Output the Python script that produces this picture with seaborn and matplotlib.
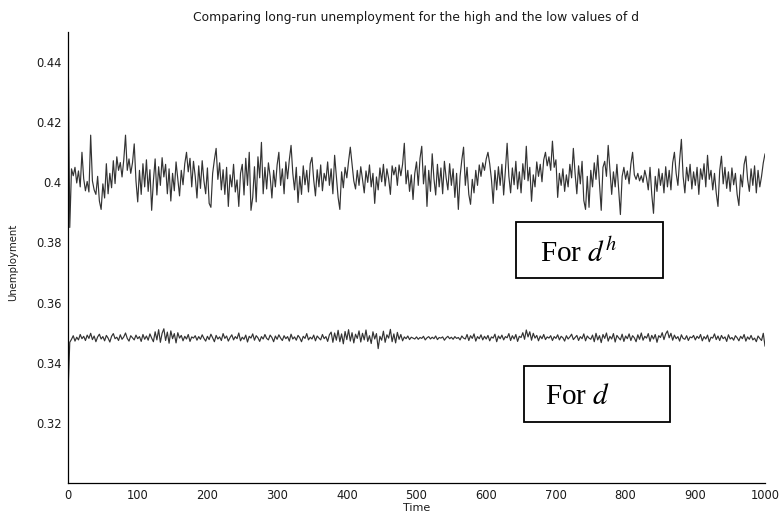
import numpy as np
import pandas as pd
import matplotlib
matplotlib.use("Agg")
import matplotlib.pyplot as plt
import seaborn as sns
from matplotlib.patches import Rectangle

# Long-run unemployment, high value of d (one sample every 2.5 periods, t = 0..1000)
high_d = [
    0.4500, 0.3850, 0.4045, 0.4022, 0.4050, 0.3998, 0.4038, 0.3985, 0.4100, 0.4012,
    0.3972, 0.4003, 0.3968, 0.4157, 0.4005, 0.3975, 0.3960, 0.4020, 0.3938, 0.3910,
    0.3995, 0.3948, 0.4062, 0.3962, 0.4030, 0.3982, 0.4072, 0.3996, 0.4085, 0.4040,
    0.4066, 0.4018, 0.4075, 0.4157, 0.4040, 0.4078, 0.4030, 0.4065, 0.4128, 0.4005,
    0.3935, 0.4040, 0.3960, 0.4062, 0.3985, 0.4075, 0.3970, 0.4042, 0.3907, 0.4005,
    0.4078, 0.3958, 0.4052, 0.3990, 0.4082, 0.4018, 0.4060, 0.3962, 0.4045, 0.3938,
    0.4030, 0.3972, 0.4068, 0.4010, 0.3955, 0.4040, 0.3992, 0.4062, 0.4100, 0.4035,
    0.4080, 0.3985, 0.4070, 0.4020, 0.3948, 0.4055, 0.3980, 0.4072, 0.4005, 0.3962,
    0.4048, 0.3930, 0.3917, 0.4030, 0.4075, 0.4113, 0.4010, 0.4065, 0.3975, 0.4042,
    0.3960, 0.4050, 0.3920, 0.4025, 0.3985, 0.4060, 0.3968, 0.4008, 0.3920, 0.4030,
    0.4060, 0.3958, 0.4080, 0.3990, 0.4100, 0.3907, 0.3950, 0.4052, 0.3935, 0.4085,
    0.4015, 0.4133, 0.3962, 0.4050, 0.3978, 0.4065, 0.4020, 0.3948, 0.4040, 0.3985,
    0.4058, 0.4100, 0.3990, 0.4045, 0.3962, 0.4068, 0.4012, 0.4075, 0.4123, 0.4030,
    0.3975, 0.4050, 0.3933, 0.4020, 0.3960, 0.4055, 0.3992, 0.4040, 0.3968, 0.4062,
    0.4083, 0.4008, 0.3955, 0.4042, 0.3985, 0.4058, 0.3972, 0.4030, 0.4005, 0.4068,
    0.3990, 0.4045, 0.3962, 0.4090, 0.4020, 0.3950, 0.3910, 0.4035, 0.3982, 0.4050,
    0.4015, 0.4070, 0.4117, 0.4060, 0.4005, 0.3978, 0.4040, 0.3990, 0.4052, 0.4010,
    0.3965, 0.4038, 0.4000, 0.4058, 0.3985, 0.4030, 0.3930, 0.4018, 0.3975, 0.4048,
    0.4002, 0.4060, 0.3988, 0.4045, 0.4012, 0.3960, 0.4055, 0.4025, 0.4050, 0.3990,
    0.4058, 0.4022, 0.4060, 0.4130, 0.3995, 0.4040, 0.3970, 0.4025, 0.3943, 0.4030,
    0.4068, 0.3990, 0.4080, 0.4120, 0.3995, 0.4055, 0.3920, 0.4040, 0.3970, 0.4095,
    0.4012, 0.3958, 0.4060, 0.3985, 0.4048, 0.3962, 0.4070, 0.4015, 0.3975, 0.4062,
    0.3990, 0.4045, 0.3950, 0.4030, 0.3910, 0.4020, 0.4075, 0.4117, 0.3990, 0.4050,
    0.3960, 0.3927, 0.4010, 0.3965, 0.4040, 0.3990, 0.4058, 0.4020, 0.4065, 0.4040,
    0.4078, 0.4100, 0.4062, 0.4010, 0.3930, 0.4040, 0.3975, 0.4052, 0.3990, 0.4060,
    0.3958, 0.4040, 0.4130, 0.4020, 0.3965, 0.4048, 0.3992, 0.4070, 0.3978, 0.4035,
    0.3965, 0.4062, 0.4010, 0.4120, 0.4005, 0.4050, 0.3937, 0.4025, 0.3985, 0.4068,
    0.4020, 0.4060, 0.4002, 0.4075, 0.4100, 0.4055, 0.4085, 0.4040, 0.4137, 0.4050,
    0.4075, 0.3950, 0.4030, 0.3990, 0.4045, 0.3970, 0.4025, 0.3985, 0.4060, 0.4015,
    0.4113, 0.4030, 0.3962, 0.4055, 0.3995, 0.4070, 0.3940, 0.3910, 0.4020, 0.3917,
    0.4040, 0.3985, 0.4065, 0.4010, 0.4090, 0.3995, 0.3907, 0.4050, 0.4070, 0.4020,
    0.4123, 0.4040, 0.3960, 0.4035, 0.3985, 0.4060, 0.3975, 0.3893, 0.4020, 0.4050,
    0.4010, 0.4038, 0.3995, 0.4060, 0.4100, 0.4025, 0.4010, 0.4030, 0.4005, 0.4022,
    0.4000, 0.4040, 0.4015, 0.3975, 0.4050, 0.3960, 0.3897, 0.4020, 0.3970, 0.4045,
    0.3990, 0.4030, 0.3965, 0.4052, 0.3985, 0.4040, 0.3975, 0.4065, 0.4100, 0.4030,
    0.3990, 0.4075, 0.4143, 0.4020, 0.3965, 0.4050, 0.4005, 0.4060, 0.3978, 0.4035,
    0.3990, 0.4050, 0.3960, 0.4045, 0.4010, 0.4062, 0.3985, 0.4090, 0.4010, 0.4040,
    0.3975, 0.4030, 0.3965, 0.3920, 0.4040, 0.4087, 0.3995, 0.4050, 0.3980, 0.4035,
    0.3970, 0.4048, 0.3992, 0.4030, 0.3960, 0.3923, 0.4025, 0.3985, 0.4060, 0.4087,
    0.4010, 0.3970, 0.4045, 0.3990, 0.4055, 0.3965, 0.4040, 0.3985, 0.4020, 0.4065,
    0.4095,
]

# Long-run unemployment, low value of d (same sampling)
low_d = [
    0.3297, 0.3468, 0.3478, 0.3490, 0.3472, 0.3485, 0.3476, 0.3494, 0.3480, 0.3488,
    0.3474, 0.3492, 0.3481, 0.3498, 0.3477, 0.3489, 0.3470, 0.3486, 0.3495, 0.3479,
    0.3487, 0.3473, 0.3491, 0.3482, 0.3469, 0.3488, 0.3497, 0.3480, 0.3485, 0.3474,
    0.3493, 0.3478, 0.3486, 0.3499, 0.3481, 0.3472, 0.3490, 0.3483, 0.3476, 0.3492,
    0.3480, 0.3487, 0.3471, 0.3494, 0.3478, 0.3489, 0.3475, 0.3496, 0.3482, 0.3470,
    0.3503, 0.3476, 0.3510, 0.3468, 0.3498, 0.3513, 0.3474, 0.3502, 0.3465, 0.3506,
    0.3480, 0.3497, 0.3466, 0.3500, 0.3482, 0.3491, 0.3473, 0.3488, 0.3479, 0.3494,
    0.3471, 0.3486, 0.3482, 0.3490, 0.3475, 0.3487, 0.3478, 0.3493, 0.3481, 0.3472,
    0.3488, 0.3477, 0.3495, 0.3483, 0.3470, 0.3491, 0.3479, 0.3486, 0.3474, 0.3497,
    0.3481, 0.3489, 0.3472, 0.3484, 0.3493, 0.3476, 0.3487, 0.3480, 0.3499, 0.3473,
    0.3485, 0.3478, 0.3492, 0.3469, 0.3488, 0.3482, 0.3496, 0.3475, 0.3490, 0.3483,
    0.3471, 0.3487, 0.3479, 0.3494, 0.3481, 0.3476, 0.3492, 0.3484, 0.3470, 0.3489,
    0.3478, 0.3493, 0.3482, 0.3474, 0.3490, 0.3480, 0.3487, 0.3472, 0.3495, 0.3479,
    0.3486, 0.3475, 0.3491, 0.3483, 0.3470, 0.3488, 0.3481, 0.3497, 0.3476, 0.3485,
    0.3479, 0.3492, 0.3473, 0.3489, 0.3482, 0.3476, 0.3494, 0.3480, 0.3487, 0.3471,
    0.3493, 0.3502, 0.3468, 0.3499, 0.3475, 0.3508, 0.3470, 0.3496, 0.3463, 0.3504,
    0.3477, 0.3510, 0.3472, 0.3500, 0.3466, 0.3495, 0.3481, 0.3506, 0.3469, 0.3498,
    0.3476, 0.3509, 0.3471, 0.3490, 0.3464, 0.3503, 0.3479, 0.3497, 0.3447, 0.3488,
    0.3475, 0.3505, 0.3468, 0.3493, 0.3482, 0.3511, 0.3470, 0.3496, 0.3466, 0.3501,
    0.3478, 0.3494, 0.3473, 0.3486, 0.3480, 0.3489, 0.3477, 0.3485, 0.3482, 0.3479,
    0.3486, 0.3478, 0.3484, 0.3481, 0.3488, 0.3476, 0.3483, 0.3487, 0.3479, 0.3485,
    0.3480, 0.3489, 0.3477, 0.3484, 0.3482, 0.3486, 0.3475, 0.3483, 0.3488, 0.3480,
    0.3485, 0.3478, 0.3487, 0.3481, 0.3484, 0.3476, 0.3489, 0.3482, 0.3479, 0.3494,
    0.3474, 0.3490, 0.3481, 0.3496, 0.3472, 0.3487, 0.3480, 0.3493, 0.3476, 0.3488,
    0.3479, 0.3491, 0.3473, 0.3486, 0.3482, 0.3495, 0.3470, 0.3489, 0.3480, 0.3492,
    0.3476, 0.3487, 0.3483, 0.3497, 0.3474, 0.3490, 0.3479, 0.3494, 0.3471, 0.3488,
    0.3484, 0.3500, 0.3478, 0.3509, 0.3486, 0.3503, 0.3475, 0.3498, 0.3482, 0.3491,
    0.3473, 0.3489, 0.3480, 0.3494, 0.3477, 0.3486, 0.3482, 0.3490, 0.3474, 0.3487,
    0.3481, 0.3493, 0.3476, 0.3488, 0.3483, 0.3472, 0.3490, 0.3479, 0.3486, 0.3495,
    0.3477, 0.3484, 0.3491, 0.3474, 0.3487, 0.3480, 0.3496, 0.3473, 0.3489, 0.3482,
    0.3478, 0.3492, 0.3470, 0.3498, 0.3476, 0.3490, 0.3467, 0.3494, 0.3481, 0.3499,
    0.3472, 0.3488, 0.3479, 0.3497, 0.3469, 0.3491, 0.3483, 0.3476, 0.3495, 0.3471,
    0.3489, 0.3480, 0.3496, 0.3474, 0.3490, 0.3483, 0.3470, 0.3493, 0.3478, 0.3499,
    0.3475, 0.3488, 0.3482, 0.3497, 0.3471, 0.3491, 0.3479, 0.3494, 0.3468, 0.3490,
    0.3484, 0.3500, 0.3477, 0.3496, 0.3506, 0.3483, 0.3498, 0.3475, 0.3492, 0.3480,
    0.3487, 0.3472, 0.3493, 0.3481, 0.3478, 0.3490, 0.3474, 0.3486, 0.3483, 0.3491,
    0.3476, 0.3488, 0.3481, 0.3494, 0.3473, 0.3487, 0.3479, 0.3492, 0.3470, 0.3485,
    0.3482, 0.3496, 0.3477, 0.3489, 0.3474, 0.3491, 0.3480, 0.3486, 0.3471, 0.3493,
    0.3479, 0.3484, 0.3475, 0.3490, 0.3483, 0.3473, 0.3488, 0.3480, 0.3494, 0.3472,
    0.3486, 0.3478, 0.3491, 0.3476, 0.3482, 0.3470, 0.3489, 0.3481, 0.3474, 0.3498,
    0.3455,
]

y_ticks = [0.32, 0.34, 0.36, 0.38, 0.40, 0.42, 0.44]
y_tick_labels = ["0.32", "0.34", "0.36", "0.38", "0.4", "0.42", "0.44"]
x_ticks = [0, 100, 200, 300, 400, 500, 600, 700, 800, 900, 1000]

title = "Comparing long-run unemployment for the high and the low values of d"

sns.set_style("white")
plt.rcParams["font.family"] = ["DejaVu Sans"]
plt.rcParams["mathtext.fontset"] = "stix"

fig = plt.figure(figsize=(7.8, 5.15), dpi=100)
ax = fig.add_axes([0.0872, 0.0621, 0.8936, 0.8757])

line_color = "#333333"
for series in (high_d, low_d):
    df = pd.DataFrame({"Time": np.linspace(0, 1000, len(series)),
                       "Unemployment": series})
    sns.lineplot(data=df, x="Time", y="Unemployment", ax=ax,
                 color=line_color, linewidth=0.85)

ax.set_xlim(0, 1000)
ax.set_ylim(0.30, 0.45)
ax.set_xticks(x_ticks, [str(v) for v in x_ticks])
ax.set_yticks(y_ticks, y_tick_labels)

for side in ("top", "right"):
    ax.spines[side].set_visible(False)
for side in ("left", "bottom"):
    ax.spines[side].set_color("black")
    ax.spines[side].set_linewidth(0.9)

ax.tick_params(direction="in", length=3.5, width=0.8, labelsize=8.3,
               pad=4.5, colors="black", labelcolor="#1a1a1a")

ax.set_xlabel("Time", fontsize=8, color="#1a1a1a")
ax.xaxis.set_label_coords(0.5, -0.045)
ax.set_ylabel("Unemployment", fontsize=7.3, color="#1a1a1a")
ax.yaxis.set_label_coords(-0.071, 0.49)

fig.text(416 / 780, 1 - 18 / 515, title, ha="center", va="center",
         fontsize=8.9, color="#1a1a1a")

# Annotation boxes naming each series
boxes = [
    (516, 222, 147, 56, 540, 262, r"For $d^h$"),
    (524, 366, 146, 56, 545, 404, r"For $d$"),
]
W, H = 780, 515
for x0, y0, w, h, tx, ty, label in boxes:
    fig.patches.append(Rectangle((x0 / W, 1 - (y0 + h) / H), w / W, h / H,
                                 transform=fig.transFigure, facecolor="white",
                                 edgecolor="black", linewidth=1.3, zorder=5))
    fig.text(tx / W, 1 - ty / H, label, ha="left", va="baseline",
             fontsize=21, family=["Liberation Serif", "DejaVu Serif"],
             color="black", zorder=6)

fig.savefig("out.png", dpi=100)
